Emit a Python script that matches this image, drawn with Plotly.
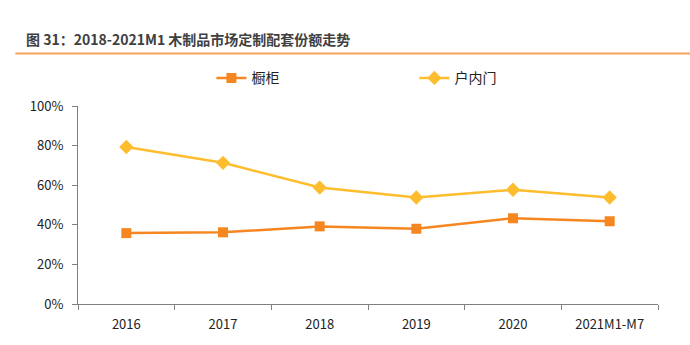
import plotly.graph_objects as go

categories = ["2016", "2017", "2018", "2019", "2020", "2021M1-M7"]
cabinet = [35.8, 36.2, 39.2, 38.0, 43.3, 41.8]      # 橱柜
door = [79.3, 71.3, 58.8, 53.8, 57.7, 53.8]         # 户内门
y_ticks = [0, 20, 40, 60, 80, 100]
y_labels = ["0%", "20%", "40%", "60%", "80%", "100%"]

ORANGE = "#F58620"
YELLOW = "#FDBD2E"
FONT = "Noto Sans CJK SC, Noto Sans, sans-serif"

fig = go.Figure()
fig.add_trace(go.Scatter(
    x=categories, y=cabinet, name="橱柜", mode="lines+markers",
    line=dict(color=ORANGE, width=2.5),
    marker=dict(symbol="square", size=10, color=ORANGE),
    legend="legend",
))
fig.add_trace(go.Scatter(
    x=categories, y=door, name="户内门", mode="lines+markers",
    line=dict(color=YELLOW, width=2.5),
    marker=dict(symbol="diamond", size=11, color=YELLOW),
    legend="legend2",
))

legend_style = dict(
    orientation="h", y=1.14, xanchor="left", yanchor="middle",
    font=dict(size=14, color="#222222"), bgcolor="rgba(0,0,0,0)",
    itemwidth=30,
)

fig.update_layout(
    width=690, height=345,
    margin=dict(l=78, r=32, t=106, b=39),
    paper_bgcolor="white", plot_bgcolor="white",
    font=dict(family=FONT, size=13, color="#222222"),
    showlegend=True,
    legend=dict(x=0.23, **legend_style),
    legend2=dict(x=0.58, **legend_style),
    xaxis=dict(
        type="category", range=[-0.5, 5.5],
        showline=True, linecolor="#808080", linewidth=1,
        ticks="outside", tickson="boundaries", ticklen=5, tickcolor="#808080",
        showgrid=False, tickfont=dict(size=13, color="#222222"),
        ticklabelstandoff=8,
    ),
    yaxis=dict(
        range=[0, 100], tickvals=y_ticks, ticktext=y_labels,
        showline=True, linecolor="#808080", linewidth=1,
        ticks="outside", ticklen=5, tickcolor="#808080",
        showgrid=False, zeroline=False, tickfont=dict(size=13, color="#222222"),
        ticklabelstandoff=6,
    ),
)

# Figure caption and the rule beneath it
fig.add_annotation(
    text="<b>图 31：2018-2021M1 木制品市场定制配套份额走势</b>",
    xref="paper", yref="paper", x=-0.093, y=1.34, yanchor="middle", xanchor="left",
    showarrow=False,
    font=dict(family=FONT, size=14, color="#404040"),
)
fig.add_shape(
    type="line", xref="paper", yref="paper", x0=-0.108, x1=1.06,
    y0=1.265, y1=1.265, line=dict(color="#F8A35E", width=2),
)

fig.write_html("out.html")
